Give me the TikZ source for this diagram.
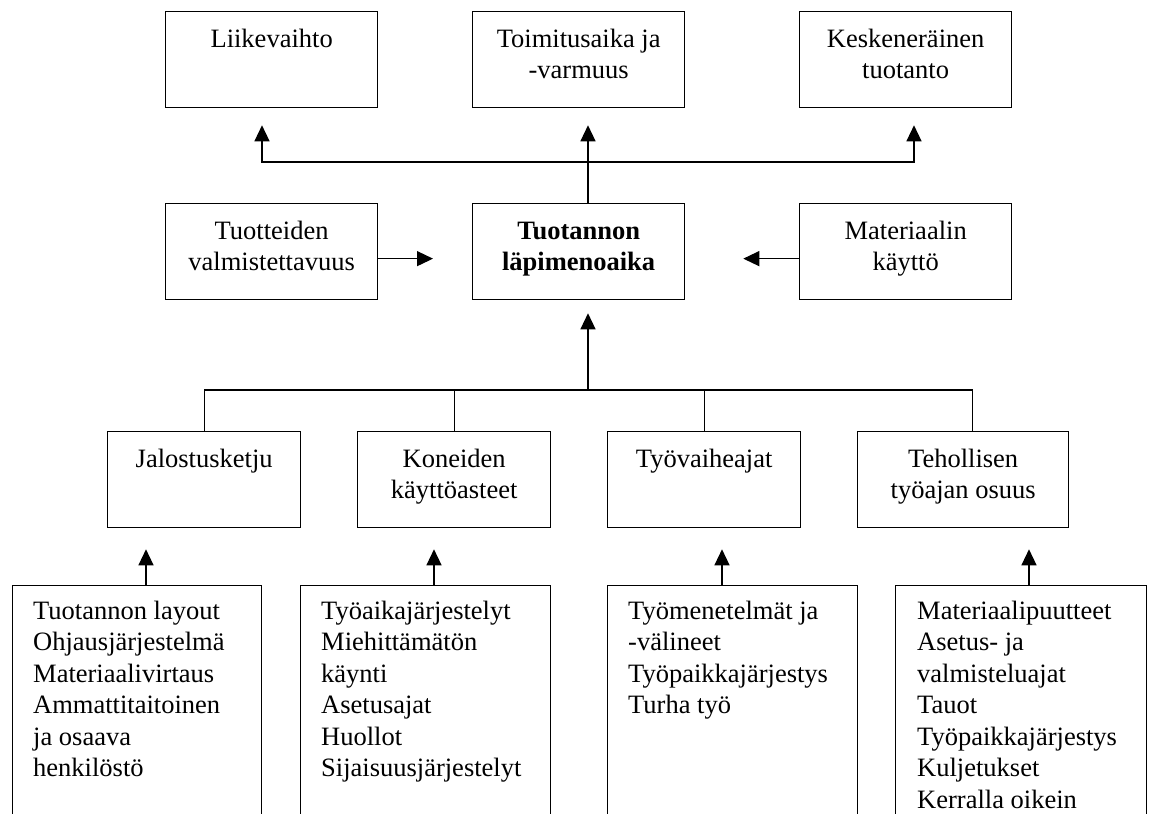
\documentclass[tikz,border=0pt]{standalone}
\usepackage{fontspec}
\setmainfont{Liberation Serif}
\usetikzlibrary{arrows.meta,calc}
\tikzset{
  bx/.style={draw=black, line width=1.3pt, inner sep=0pt, anchor=north west, minimum height=96pt},
  lbl/.style={inner sep=0pt, anchor=north, align=center, font=\fontsize{26.5}{31.5}\selectfont},
  lst/.style={inner sep=0pt, anchor=north west, align=left, font=\fontsize{26.5}{31.5}\selectfont},
  arr/.style={line width=1.3pt, -{Triangle[width=15pt,length=16pt]}},
  ln/.style={line width=1.3pt}
}
\newcommand{\fs}{\rule{0pt}{20pt}}
\begin{document}
\begin{tikzpicture}[x=1pt,y=1pt]
\useasboundingbox (0,0) rectangle (1152,814);
\clip (0,0) rectangle (1152,814);
\fill[white] (0,0) rectangle (1152,814);
% top row
\node[bx, minimum width=212pt] (liike) at (165,803) {};
\node[bx, minimum width=212pt] (toim) at (472,803) {};
\node[bx, minimum width=212pt] (kesk) at (799,803) {};
\node[lbl] (liike-t) at ($(liike.north)+(0,-16)$) {\fs Liikevaihto};
\node[lbl] (toim-t) at ($(toim.north)+(0,-16)$) {\fs Toimitusaika ja\\-varmuus};
\node[lbl] (kesk-t) at ($(kesk.north)+(0,-16)$) {\fs Keskeneräinen\\tuotanto};
% middle row
\node[bx, minimum width=212pt] (tuot) at (165,611) {};
\node[bx, minimum width=212pt] (lapi) at (472,611) {};
\node[bx, minimum width=212pt] (mat) at (799,611) {};
\node[lbl] (tuot-t) at ($(tuot.north)+(0,-16)$) {\fs Tuotteiden\\valmistettavuus};
\node[lbl, font=\fontsize{26.5}{31.5}\selectfont\bfseries] (lapi-t) at ($(lapi.north)+(0,-16)$) {\fs Tuotannon\\läpimenoaika};
\node[lbl] (mat-t) at ($(mat.north)+(0,-16)$) {\fs Materiaalin\\käyttö};
% third row
\node[bx, minimum width=193pt] (jal) at (107,383) {};
\node[bx, minimum width=193pt] (kon) at (357,383) {};
\node[bx, minimum width=193pt] (tyo) at (607,383) {};
\node[bx, minimum width=211pt] (teh) at (857,383) {};
\node[lbl] (jal-t) at ($(jal.north)+(0,-16)$) {\fs Jalostusketju};
\node[lbl] (kon-t) at ($(kon.north)+(0,-16)$) {\fs Koneiden\\käyttöasteet};
\node[lbl] (tyo-t) at ($(tyo.north)+(0,-16)$) {\fs Työvaiheajat};
\node[lbl] (teh-t) at ($(teh.north)+(0,-16)$) {\fs Tehollisen\\työajan osuus};
% bottom row (cut off by the page edge)
\node[bx, minimum width=249pt, minimum height=270pt] (b1) at (12,229) {};
\node[bx, minimum width=250pt, minimum height=270pt] (b2) at (300,229) {};
\node[bx, minimum width=250pt, minimum height=270pt] (b3) at (607,229) {};
\node[bx, minimum width=251pt, minimum height=270pt] (b4) at (895,229) {};
\node[lst] (b1-t) at ($(b1.north west)+(21,-14)$) {\fs Tuotannon layout\\Ohjausjärjestelmä\\Materiaalivirtaus\\Ammattitaitoinen\\ja osaava\\henkilöstö};
\node[lst] (b2-t) at ($(b2.north west)+(21,-14)$) {\fs Työaikajärjestelyt\\Miehittämätön\\käynti\\Asetusajat\\Huollot\\Sijaisuusjärjestelyt};
\node[lst] (b3-t) at ($(b3.north west)+(21,-14)$) {\fs Työmenetelmät ja\\-välineet\\Työpaikkajärjestys\\Turha työ};
\node[lst] (b4-t) at ($(b4.north west)+(22,-14)$) {\fs Materiaalipuutteet\\Asetus- ja\\valmisteluajat\\Tauot\\Työpaikkajärjestys\\Kuljetukset\\Kerralla oikein};
% connectors: top
\coordinate (hub) at (588,652);
\draw[arr, shorten >=17pt] (lapi.north -| hub) -- (toim.south -| hub);
\draw[arr, shorten >=17pt] (hub) -| ([xshift=97pt]liike.south west);
\draw[arr, shorten >=17pt] (hub) -| ([xshift=115pt]kesk.south west);
% side arrows
\coordinate (s1) at ([yshift=-7pt]tuot.east);
\coordinate (s2) at ([yshift=-7pt]mat.west);
\draw[arr, shorten >=39pt] (s1) -- (s1 -| lapi.west);
\draw[arr, shorten >=58pt] (s2) -- (s2 -| lapi.east);
% connectors: middle tree
\coordinate (hub2) at (588,424);
\draw[arr, shorten >=13pt] (hub2) -- (lapi.south -| hub2);
\draw[ln] (jal.north) |- (hub2);
\draw[ln] (kon.north) |- (hub2);
\draw[ln] (tyo.north) |- (hub2);
\draw[ln] ([xshift=9.5pt]teh.north) |- (hub2);
% connectors: bottom
\coordinate (a1) at ([xshift=134pt]b1.north west);
\coordinate (a2) at ([xshift=134pt]b2.north west);
\coordinate (a3) at ([xshift=115pt]b3.north west);
\coordinate (a4) at ([xshift=134pt]b4.north west);
\draw[arr, shorten >=21pt] (a1) -- (a1 |- jal.south);
\draw[arr, shorten >=21pt] (a2) -- (a2 |- kon.south);
\draw[arr, shorten >=21pt] (a3) -- (a3 |- tyo.south);
\draw[arr, shorten >=21pt] (a4) -- (a4 |- teh.south);
\end{tikzpicture}
\end{document}
